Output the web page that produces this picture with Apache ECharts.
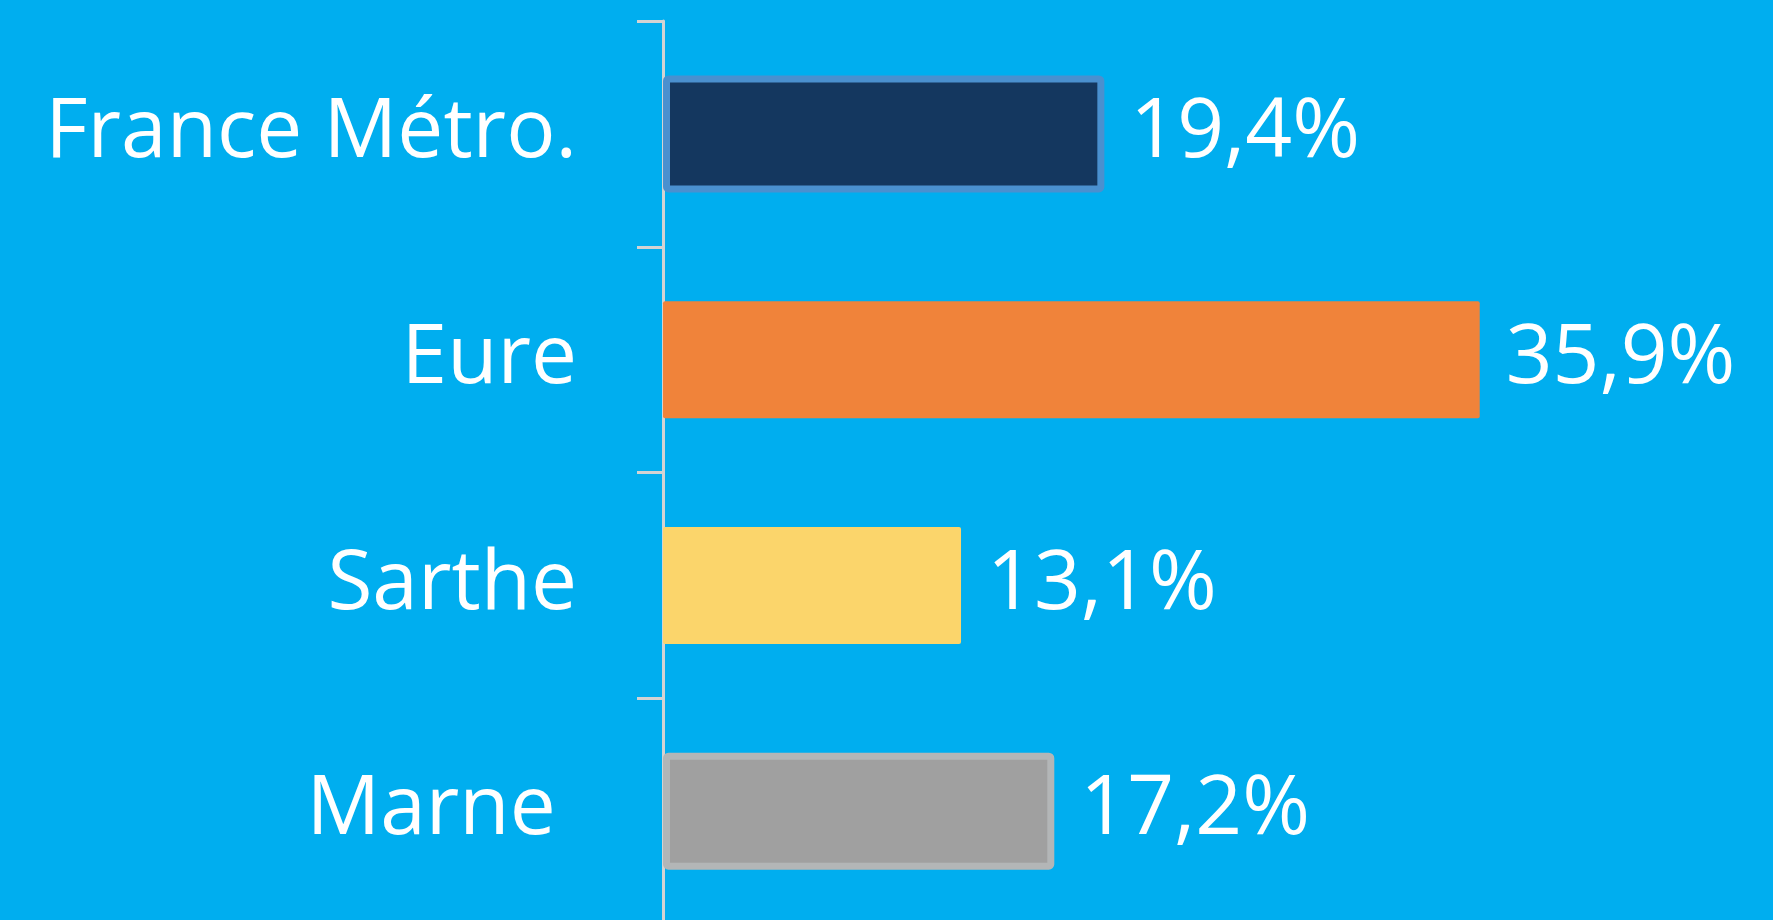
<!DOCTYPE html>
<html>
<head>
<meta charset="utf-8">
<style>
  html, body { margin: 0; padding: 0; background: #00AEEF; }
  #container { width: 1773px; height: 920px; }
</style>
<script src="https://cdn.jsdelivr.net/npm/echarts@6/dist/echarts.min.js"></script>
</head>
<body>
<div id="container"></div>
<script>
var categories = ['France Métro.', 'Eure', 'Sarthe', 'Marne '];
var values = [19.4, 35.9, 13.1, 17.2];
var fillColors = ['#14375F', '#F0833A', '#FBD56B', '#A0A0A0'];
var borderColors = ['#4A90CF', '#F0833A', '#FBD56B', '#B3B6B7'];
var borderWidths = [7, 0, 0, 7];

var dom = document.getElementById("container");
var myChart = echarts.init(dom);
var option = null;

var barData = values.map(function (v, i) {
    return {
        value: v,
        itemStyle: {
            color: fillColors[i],
            borderColor: borderColors[i],
            borderWidth: borderWidths[i],
            borderRadius: 2
        }
    };
});

option = {
    backgroundColor: '#00AEEF',
    animation: false,
    grid: {
        left: 663,
        right: 200,
        top: 21,
        bottom: -4,
        outerBoundsMode: 'none'
    },
    xAxis: {
        type: 'value',
        min: 0,
        max: 40,
        show: false
    },
    yAxis: {
        type: 'category',
        inverse: true,
        data: categories,
        axisLine: {
            show: true,
            lineStyle: {
                color: '#D3D3D3',
                width: 3
            }
        },
        axisTick: {
            show: true,
            length: 26,
            lineStyle: {
                color: '#D3D3D3',
                width: 3
            }
        },
        axisLabel: {
            margin: 86,
            color: '#ffffff',
            fontFamily: 'Open Sans',
            fontSize: 82
        }
    },
    series: [{
        type: 'bar',
        data: barData,
        barWidth: 117,
        label: {
            show: true,
            position: 'right',
            distance: 26,
            color: '#ffffff',
            fontFamily: 'Open Sans',
            fontSize: 82,
            formatter: function (p) {
                return p.value.toFixed(1).replace('.', ',') + '%';
            }
        }
    }]
};

if (option && typeof option === "object") {
    myChart.setOption(option, true);
}
</script>
</body>
</html>
